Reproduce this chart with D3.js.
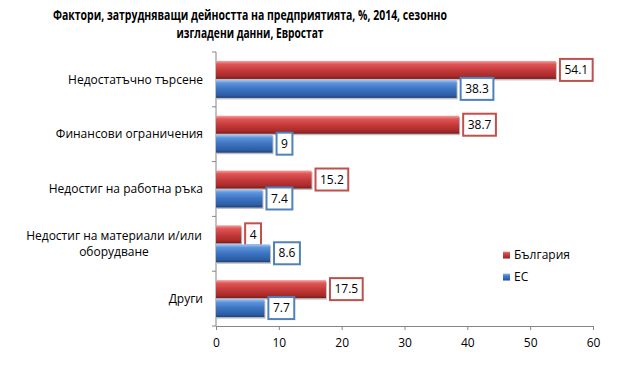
<!DOCTYPE html>
<html>
<head>
<meta charset="utf-8">
<script src="https://cdn.jsdelivr.net/npm/d3@7"></script>
<style>
  body { margin: 0; background: #fff; }
  svg { font-family: "Open Sans", "Noto Sans", sans-serif; }
</style>
</head>
<body>
<svg id="chart" width="630" height="369"></svg>
<script>
// data
const categories = ["Недостатъчно търсене", "Финансови ограничения", "Недостиг на работна ръка",
                    "Недостиг на материали и/или оборудване", "Други"];
const bulgaria = [54.1, 38.7, 15.2, 4, 17.5];
const eu = [38.3, 9, 7.4, 8.6, 7.7];
const seriesNames = ["България", "ЕС"];
const xTicks = [0, 10, 20, 30, 40, 50, 60];
const titleLines = ["Фактори, затрудняващи дейността на предприятията, %, 2014, сезонно",
                    "изгладени данни, Евростат"];

const svg = d3.select("#chart");
const margin = {top: 52, left: 216, right: 37, bottom: 43};
const W = 630, H = 369;

const defs = svg.append("defs");
function grad(id, stops) {
    const g = defs.append("linearGradient").attr("id", id)
        .attr("x1", 0).attr("y1", 0).attr("x2", 0).attr("y2", 1);
    stops.forEach(s => g.append("stop").attr("offset", s[0]).attr("stop-color", s[1]));
}
grad("gRed", [[0, "#f3a3a3"], [0.18, "#e05555"], [0.5, "#c63b3b"], [0.85, "#a82a2a"], [1, "#7a1c1c"]]);
grad("gBlue", [[0, "#a9c8f0"], [0.18, "#5b93dc"], [0.5, "#3d74c2"], [0.85, "#2d5ea6"], [1, "#1f4178"]]);

const colors = {"България": {fill: "url(#gRed)", stroke: "#c0504d"},
                "ЕС": {fill: "url(#gBlue)", stroke: "#4f81bd"}};

const x = d3.scaleLinear().domain([0, 60]).range([margin.left, W - margin.right]);
const y0 = d3.scaleBand().domain(categories).range([margin.top, H - margin.bottom]).padding(0);
const y1 = d3.scaleBand().domain(seriesNames).range([0, y0.bandwidth()])
    .paddingInner(0.05).paddingOuter(0.47);

// title (squeezed to the width of the original narrow font)
const titleWidths = [394, 147];
svg.append("g").selectAll("text").data(titleLines).join("text")
    .attr("x", 250).attr("y", (d, i) => 20 + i * 18)
    .attr("text-anchor", "middle")
    .attr("font-size", 13.5).attr("font-weight", "bold")
    .attr("textLength", (d, i) => titleWidths[i])
    .attr("lengthAdjust", "spacingAndGlyphs")
    .text(d => d);

// x axis
const xAxis = svg.append("g")
    .attr("transform", "translate(0," + (H - margin.bottom) + ")")
    .call(d3.axisBottom(x).tickValues(xTicks).tickSize(4).tickSizeOuter(0).tickPadding(8));
xAxis.select(".domain").attr("stroke", "#868686");
xAxis.selectAll(".tick line").attr("stroke", "#868686");
xAxis.selectAll(".tick text").attr("font-size", 12).attr("fill", "#000").attr("font-family", "Open Sans");

// y axis (ticks at category boundaries)
const bounds = categories.map(c => y0(c)).concat([H - margin.bottom]);
svg.append("line")
    .attr("x1", margin.left).attr("x2", margin.left)
    .attr("y1", margin.top).attr("y2", H - margin.bottom)
    .attr("stroke", "#868686");
svg.append("g").selectAll("line").data(bounds).join("line")
    .attr("x1", margin.left - 4).attr("x2", margin.left)
    .attr("y1", d => d).attr("y2", d => d)
    .attr("stroke", "#868686");

// category labels
const labelLines = c => c === "Недостиг на материали и/или оборудване"
    ? ["Недостиг на материали и/или", "оборудване"] : [c];
categories.forEach(c => {
    const lines = labelLines(c);
    const cy = y0(c) + y0.bandwidth() / 2;
    svg.append("g").selectAll("text").data(lines).join("text")
        .attr("y", (d, i) => cy + (i - (lines.length - 1) / 2) * 16)
        .attr("dy", "0.35em")
        .attr("font-size", 12)
        .attr("text-anchor", lines.length > 1 ? "middle" : "end")
        .attr("x", lines.length > 1 ? 114 : 203)
        .text(d => d);
});

// bars
const rows = [];
categories.forEach((c, i) => {
    rows.push({cat: c, s: "България", v: bulgaria[i]});
    rows.push({cat: c, s: "ЕС", v: eu[i]});
});

const bar = svg.append("g").selectAll("g").data(rows).join("g")
    .attr("transform", d => "translate(0," + (y0(d.cat) + y1(d.s)) + ")");

bar.append("rect")
    .attr("x", x(0) + 1)
    .attr("y", 1.5)
    .attr("width", d => x(d.v) - x(0))
    .attr("height", y1.bandwidth())
    .attr("fill", "rgba(0,0,0,0.25)");
bar.append("rect")
    .attr("x", x(0))
    .attr("y", 0)
    .attr("width", d => x(d.v) - x(0))
    .attr("height", y1.bandwidth())
    .attr("fill", d => colors[d.s].fill);

// value labels in boxes
bar.each(function (d) {
    const g = d3.select(this);
    const t = g.append("text")
        .attr("y", y1.bandwidth() / 2)
        .attr("dy", "0.35em")
        .attr("font-size", 12)
        .attr("text-anchor", "middle")
        .text(d.v);
    const tw = t.node().getComputedTextLength();
    const bw = tw + 9;
    const bx = x(d.v) + 4;
    g.insert("rect", "text")
        .attr("x", bx).attr("y", y1.bandwidth() / 2 - 11)
        .attr("width", bw).attr("height", 22)
        .attr("fill", "#fff")
        .attr("stroke", colors[d.s].stroke).attr("stroke-width", 2);
    t.attr("x", bx + bw / 2);
});

// legend
const legend = svg.append("g").selectAll("g").data(seriesNames).join("g")
    .attr("transform", (d, i) => "translate(503," + (255 + i * 22) + ")");
legend.append("rect")
    .attr("x", 0).attr("y", -3.5).attr("width", 7).attr("height", 7)
    .attr("fill", d => colors[d].fill);
legend.append("text")
    .attr("x", 11).attr("dy", "0.35em")
    .attr("font-size", 12)
    .text(d => d);
</script>
</body>
</html>
